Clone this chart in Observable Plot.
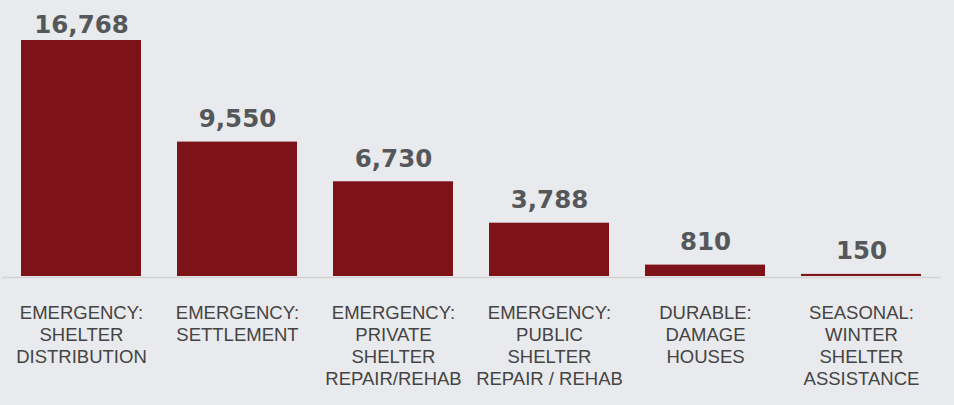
<!DOCTYPE html>
<html>
<head>
<meta charset="utf-8">
<script src="https://cdn.jsdelivr.net/npm/d3@7"></script>
<script src="https://cdn.jsdelivr.net/npm/@observablehq/plot@0.6"></script>
<style>
  html, body { margin: 0; padding: 0; background: #e9eaed; }
  #chart svg { display: block; background: #e9eaed; }
</style>
</head>
<body>
<div id="chart"></div>
<script>
const categories = [
  "EMERGENCY:\nSHELTER\nDISTRIBUTION",
  "EMERGENCY:\nSETTLEMENT",
  "EMERGENCY:\nPRIVATE\nSHELTER\nREPAIR/REHAB",
  "EMERGENCY:\nPUBLIC\nSHELTER\nREPAIR / REHAB",
  "DURABLE:\nDAMAGE\nHOUSES",
  "SEASONAL:\nWINTER\nSHELTER\nASSISTANCE"
];
const values = [16768, 9550, 6730, 3788, 810, 150];

const data = categories.map((c, i) => ({category: c, value: values[i]}));
const maxVal = d3.max(values);
const fmt = d3.format(",");

const labelStyle = {
  fontFamily: "DejaVu Sans", fontWeight: "bold", fontSize: 24.5, fill: "#55585b",
  style: {letterSpacing: "1px"}
};

const chart = Plot.plot({
  width: 954,
  height: 405,
  marginTop: 40,
  marginBottom: 129,
  marginLeft: 2,
  marginRight: 13,
  style: {background: "#e9eaed", fontFamily: "Liberation Sans, Arial, sans-serif"},
  x: {domain: categories, paddingInner: 0.23, paddingOuter: 0.115, label: null},
  y: {domain: [0, maxVal], axis: null},
  marks: [
    Plot.barY(data, {x: "category", y: "value", fill: "#7d1219"}),
    Plot.ruleY([0], {stroke: "#d3d3d3", strokeWidth: 1.5, dy: 1}),
    Plot.text(data.filter(d => d.value === maxVal), {
      x: "category", y: "value", text: d => fmt(d.value),
      lineAnchor: "bottom", dy: -8, ...labelStyle
    }),
    Plot.text(data.filter(d => d.value !== maxVal), {
      x: "category", y: "value", text: d => fmt(d.value),
      lineAnchor: "bottom", dy: -15, ...labelStyle
    }),
    Plot.axisX({
      tickSize: 0, tickPadding: 27, fontSize: 18.5, lineHeight: 1.19,
      fill: "#444", label: null
    })
  ]
});
document.getElementById("chart").appendChild(chart);
</script>
</body>
</html>
